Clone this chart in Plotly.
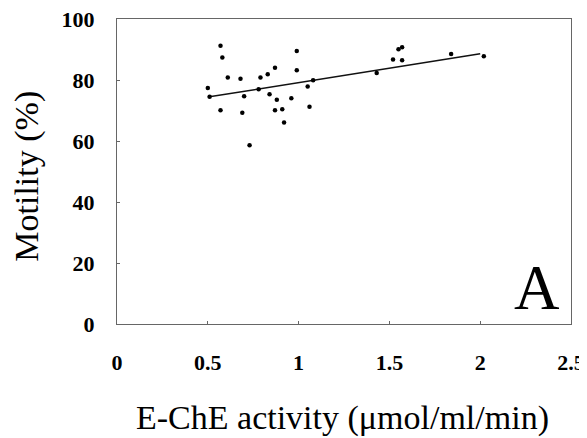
import plotly.graph_objects as go

# Scatter data: E-ChE activity (umol/ml/min) vs motility (%)
echE_activity = [0.50, 0.51, 0.57, 0.58, 0.57, 0.61, 0.68, 0.69, 0.70, 0.73,
                 0.78, 0.79, 0.83, 0.84, 0.87, 0.88, 0.87, 0.91, 0.92, 0.96,
                 0.99, 0.99, 1.05, 1.06, 1.08, 1.43, 1.52, 1.55, 1.57, 1.57,
                 1.84, 2.02]
motility = [77.4, 74.5, 91.2, 87.4, 70.1, 80.8, 80.4, 69.3, 74.7, 58.6,
            77.0, 80.8, 81.9, 75.3, 84.0, 73.5, 70.1, 70.4, 66.1, 74.0,
            89.5, 83.2, 77.9, 71.2, 79.9, 82.3, 86.7, 90.1, 90.7, 86.5,
            88.5, 87.8]

# Regression line end points
fit_x = [0.50, 2.00]
fit_y = [74.4, 88.6]

x_tickvals = [0, 0.5, 1, 1.5, 2, 2.5]
x_ticktext = ["0", "0.5", "1", "1.5", "2", "2.5"]
y_tickvals = [0, 20, 40, 60, 80, 100]

serif = "Liberation Serif, Times New Roman, serif"

fig = go.Figure()
fig.add_trace(go.Scatter(x=fit_x, y=fit_y, mode="lines",
                         line=dict(color="#111", width=1.5), showlegend=False))
fig.add_trace(go.Scatter(x=echE_activity, y=motility, mode="markers",
                         marker=dict(color="#000", size=4.5), showlegend=False))

fig.add_annotation(x=0.926, y=0.118, xref="paper", yref="paper", text="A",
                   showarrow=False, xanchor="center", yanchor="middle",
                   font=dict(family=serif, size=63, color="#000"))
fig.add_annotation(x=0.497, y=-0.309, xref="paper", yref="paper",
                   text="E-ChE activity (μmol/ml/min)", showarrow=False,
                   xanchor="center", yanchor="middle", height=38,
                   font=dict(family=serif, size=34, color="#000"))
fig.add_annotation(x=-0.199, y=0.485, xref="paper", yref="paper",
                   text="Motility (%)", showarrow=False, textangle=-90,
                   xanchor="center", yanchor="middle",
                   font=dict(family=serif, size=34, color="#000"))

axis_common = dict(showgrid=False, zeroline=False, showline=True, mirror=True,
                   linecolor="#666", linewidth=1, ticks="inside", ticklen=3,
                   tickcolor="#666", automargin=False, ticklabeloverflow="allow",
                   tickfont=dict(family=serif, size=22, color="#000", weight="bold"))

fig.update_layout(
    width=579, height=430,
    margin=dict(l=109, r=16, t=11, b=114),
    paper_bgcolor="white", plot_bgcolor="white",
    font=dict(family=serif, color="#000"),
    xaxis=dict(range=[0, 2.5], tickvals=x_tickvals, ticktext=x_ticktext,
               ticklabelstandoff=19, **axis_common),
    yaxis=dict(range=[0, 100], tickvals=y_tickvals,
               ticklabelstandoff=17, **axis_common),
)

fig.write_html("out.html")
